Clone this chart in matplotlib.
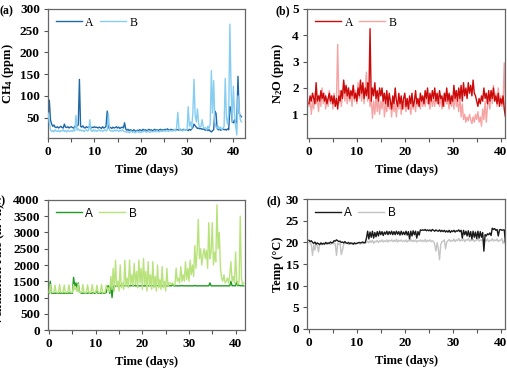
import matplotlib
matplotlib.use('Agg')
import matplotlib.pyplot as plt
from matplotlib.ticker import MultipleLocator
import numpy as np

plt.rcParams['font.family'] = ['Liberation Serif', 'DejaVu Serif']
plt.rcParams['mathtext.fontset'] = 'custom'
plt.rcParams['mathtext.rm'] = 'Liberation Serif:bold'
plt.rcParams['mathtext.default'] = 'rm'

# values read every 0.25 day (one row = one day)
ch4_a = [
    55, 90, 45, 35,  30, 33, 28, 27,  29, 26, 28, 30,  27, 26, 35, 28,
    27, 29, 26, 28,  29, 27, 26, 30,  28, 31, 33, 138,  30, 28, 31, 27,
    26, 29, 27, 28,  30, 26, 28, 27,  29, 27, 28, 26,  28, 27, 25, 29,
    26, 27, 30, 65,  26, 28, 27, 25,  28, 26, 27, 29,  26, 28, 25, 27,
    28, 26, 38, 24,  21, 23, 20, 22,  21, 19, 22, 20,  18, 21, 20, 22,
    21, 20, 23, 21,  22, 20, 21, 23,  21, 22, 20, 21,  23, 21, 22, 20,
    22, 23, 21, 22,  21, 23, 22, 24,  22, 21, 23, 22,  21, 22, 20, 23,
    22, 21, 23, 22,  21, 23, 22, 21,  22, 20, 23, 21,  24, 27, 35, 31,
    28, 25, 26, 24,  25, 23, 24, 22,  21, 23, 20, 22,  19, 17, 20, 22,
    65, 60, 25, 22,  23, 21, 22, 24,  22, 23, 21, 24,  22, 75, 70, 40,
    38, 45, 35, 42,  145, 60, 55, 52,
]
ch4_b = [
    60, 40, 22, 18,  20, 17, 22, 19,  18, 21, 17, 20,  19, 22, 18, 20,
    17, 21, 19, 18,  20, 18, 22, 19,  55, 21, 24, 20,  22, 19, 21, 18,
    20, 22, 19, 21,  45, 20, 18, 22,  19, 21, 18, 20,  22, 19, 21, 18,
    20, 22, 19, 21,  60, 22, 19, 20,  18, 21, 19, 22,  20, 18, 21, 19,
    22, 19, 18, 17,  16, 18, 15, 17,  19, 16, 18, 15,  17, 19, 16, 18,
    15, 18, 17, 19,  18, 16, 19, 17,  16, 19, 17, 18,  19, 17, 20, 18,
    17, 20, 18, 19,  20, 18, 21, 19,  18, 21, 19, 20,  19, 22, 20, 28,
    62, 25, 20, 22,  19, 21, 23, 20,  22, 75, 30, 40,  25, 60, 138, 55,
    40, 70, 35, 28,  30, 45, 28, 25,  27, 22, 30, 25,  35, 158, 60, 135,
    40, 28, 25, 30,  24, 28, 22, 25,  30, 140, 50, 35,  60, 265, 120, 40,
    122, 60, 30, 10,  100, 70, 45, 40,
]
n2o_a = [
    1.4, 1.7, 1.5, 1.8,  1.6, 1.4, 2.2, 1.5,  1.7, 1.5, 1.9, 1.6,  1.8, 1.5, 1.7, 1.4,
    1.6, 1.8, 1.5, 1.7,  1.4, 1.7, 1.3, 1.6,  1.2, 1.7, 1.5, 1.9,  1.6, 2.3, 1.8, 2.1,
    1.7, 2.0, 1.6, 1.9,  1.7, 2.1, 1.6, 1.8,  1.5, 2.0, 1.7, 2.3,  1.8, 2.2, 1.6, 2.0,
    1.7, 2.2, 1.6, 4.25,  1.5, 2.0, 1.7, 2.2,  1.6, 1.9, 1.5, 2.0,  1.7, 2.0, 1.5, 1.8,
    1.4, 1.9, 1.3, 1.8,  1.5, 1.2, 1.7, 1.4,  2.0, 1.5, 1.3, 1.8,  1.4, 1.7, 1.2, 1.6,
    1.8, 1.3, 1.6, 1.2,  1.7, 1.4, 1.8, 1.3,  1.5, 1.9, 1.4, 1.6,  1.3, 1.8, 1.5, 1.7,
    1.4, 1.9, 1.6, 2.0,  1.4, 1.8, 1.5, 1.9,  1.6, 2.0, 1.5, 1.8,  1.4, 1.9, 1.6, 1.7,
    1.3, 1.8, 1.5, 2.0,  1.5, 1.8, 1.4, 1.7,  1.5, 2.1, 1.6, 1.9,  1.5, 2.0, 1.6, 2.1,
    1.5, 2.2, 1.7, 2.0,  1.6, 2.2, 1.8, 2.1,  1.7, 2.3, 1.8, 1.7,  1.5, 1.3, 1.6, 1.4,
    1.7, 1.5, 2.0, 1.6,  1.8, 1.4, 1.9, 1.5,  1.9, 1.6, 2.0, 1.5,  1.7, 1.4, 1.8, 1.3,
    1.6, 1.4, 1.7, 1.2,  0.9, 1.3, 1.1, 1.25,
]
n2o_b = [
    1.3, 1.6, 1.0, 1.5,  1.2, 1.8, 1.4, 1.6,  1.1, 1.7, 1.3, 2.0,  1.4, 1.8, 1.2, 1.6,
    1.3, 1.9, 1.4, 1.7,  1.2, 1.8, 1.3, 1.6,  3.65, 1.4, 1.9, 1.3,  1.7, 2.2, 1.5, 1.9,
    1.4, 2.0, 1.5, 1.8,  1.3, 2.1, 1.5, 1.9,  1.4, 2.2, 1.6, 2.0,  1.5, 2.1, 1.4, 2.0,
    2.6, 1.5, 1.9, 1.3,  1.6, 0.85, 1.5, 1.0,  1.7, 1.1, 1.6, 1.0,  1.5, 1.2, 1.8, 0.9,
    1.4, 1.1, 1.7, 1.2,  1.5, 0.9, 1.6, 1.1,  1.4, 0.9, 1.5, 1.2,  1.6, 1.0, 1.4, 1.2,
    1.5, 1.1, 1.6, 1.2,  1.4, 1.0, 1.5, 1.2,  1.5, 1.1, 1.6, 1.3,  1.4, 1.2, 1.7, 1.3,
    1.6, 1.3, 1.8, 1.4,  1.5, 1.2, 1.7, 1.3,  1.6, 1.3, 1.8, 1.4,  1.5, 1.3, 1.7, 1.2,
    1.6, 1.3, 1.8, 1.4,  1.5, 1.2, 1.7, 1.3,  1.6, 1.2, 1.9, 1.3,  1.5, 1.1, 1.7, 0.9,
    1.4, 0.8, 1.0, 0.7,  0.9, 0.75, 1.0, 0.8,  0.65, 0.9, 0.7, 1.0,  0.8, 1.1, 0.7, 0.9,
    0.55, 1.2, 0.8, 1.5,  0.7, 1.3, 1.6, 1.2,  1.9, 1.4, 2.1, 1.5,  1.8, 1.3, 2.0, 1.4,
    1.7, 1.3, 1.5, 2.95,  1.2, 1.0, 1.1, 1.0,
]
vent_a = [
    1130, 1500, 1140, 1130,  1130, 1140, 1130, 1150,  1130, 1140, 1130, 1130,  1140, 1130, 1140, 1130,
    1130, 1150, 1130, 1140,  1130, 1620, 1350, 1450,  1300, 1450, 1180, 1150,  1130, 1140, 1130, 1150,
    1140, 1130, 1150, 1140,  1130, 1150, 1140, 1130,  1140, 1200, 1130, 1150,  1130, 1140, 1150, 1130,
    1140, 1150, 1350, 1360,  1130, 1360, 1000, 1350,  1360, 1350, 1360, 1350,  1360, 1370, 1360, 1360,
    1360, 1360, 1370, 1360,  1360, 1360, 1360, 1370,  1360, 1370, 1360, 1360,  1360, 1360, 1360, 1360,
    1370, 1360, 1360, 1360,  1360, 1360, 1370, 1360,  1360, 1360, 1360, 1360,  1360, 1370, 1360, 1360,
    1360, 1360, 1360, 1360,  1360, 1360, 1360, 1370,  1360, 1360, 1400, 1360,  1360, 1360, 1360, 1360,
    1360, 1360, 1370, 1360,  1360, 1360, 1360, 1360,  1360, 1360, 1360, 1360,  1360, 1370, 1360, 1360,
    1360, 1360, 1360, 1360,  1360, 1360, 1360, 1360,  1360, 1360, 1450, 1360,  1360, 1360, 1360, 1360,
    1360, 1360, 1360, 1360,  1360, 1360, 1360, 1360,  1360, 1360, 1360, 1360,  1500, 1360, 1370, 1360,
    1360, 1500, 1360, 1380,  1360, 1370, 1360, 1360,
]
vent_b = [
    1150, 1400, 1180, 1150,  1160, 1380, 1170, 1150,  1150, 1400, 1160, 1150,  1170, 1380, 1150, 1160,
    1150, 1390, 1170, 1150,  1160, 1400, 1250, 1300,  1180, 1420, 1160, 1150,  1170, 1400, 1150, 1160,
    1150, 1390, 1170, 1150,  1160, 1400, 1150, 1170,  1150, 1380, 1160, 1150,  1170, 1400, 1150, 1160,
    1150, 1380, 1250, 1300,  1180, 1650, 1250, 1900,  1200, 2150, 1350, 1500,  1200, 2000, 1300, 1450,
    1250, 2150, 1350, 1600,  1300, 2150, 1400, 1700,  1350, 2050, 1400, 1800,  1300, 2150, 1450, 1900,
    1250, 2200, 1400, 1800,  1200, 2100, 1350, 1700,  1250, 2100, 1300, 1650,  1200, 2000, 1300, 1550,
    1250, 1950, 1300, 1500,  1200, 1900, 1350, 1450,  1450, 1400, 1450, 1380,  1400, 1900, 1500, 1600,
    1450, 1950, 1500, 1700,  1500, 2100, 1550, 1900,  1500, 2150, 1700, 2000,  1650, 2600, 1900, 2400,
    3400, 2200, 2500, 2000,  2300, 2500, 2200, 2450,  1900, 3300, 2200, 2400,  3300, 2000, 2400, 2100,
    3850, 2500, 3000, 1900,  1600, 1500, 1700, 1450,  1500, 1600, 1450, 1700,  2100, 1500, 1650, 1450,
    2400, 1500, 1400, 1500,  3500, 1600, 1400, 1450,
]
temp_a = [
    20.5, 20.2, 20.4, 20.0,  19.8, 20.1, 19.6, 19.9,  19.7, 19.5, 19.9, 19.6,  19.8, 19.6, 20.0, 19.7,
    19.9, 19.8, 20.1, 19.9,  20.0, 20.4, 20.3, 20.6,  20.4, 20.2, 20.3, 20.0,  20.1, 19.9, 20.2, 19.9,
    19.8, 20.0, 19.7, 19.9,  19.8, 19.6, 19.9, 19.7,  19.8, 19.9, 20.0, 19.9,  20.0, 20.1, 19.9, 20.0,
    21.0, 22.6, 20.8, 22.4,  21.2, 22.6, 21.0, 22.3,  21.3, 22.5, 21.5, 22.6,  21.8, 22.5, 21.6, 22.4,
    21.9, 22.6, 21.8, 22.5,  21.9, 22.6, 21.8, 22.5,  21.8, 22.6, 21.9, 22.5,  21.7, 22.6, 21.8, 22.4,
    21.8, 22.6, 21.7, 22.5,  20.8, 22.6, 21.5, 22.7,  21.8, 22.6, 21.0, 22.5,  21.7, 22.9, 22.8, 22.9,
    22.8, 23.0, 22.7, 22.9,  22.7, 22.9, 22.6, 23.0,  22.8, 22.6, 22.9, 22.7,  22.6, 22.9, 22.5, 22.8,
    22.5, 22.8, 22.4, 22.7,  22.4, 22.8, 22.3, 22.7,  22.5, 22.8, 22.4, 22.7,  22.6, 22.9, 22.5, 22.8,
    21.0, 22.8, 21.8, 22.6,  21.5, 22.7, 21.3, 22.5,  20.8, 22.6, 21.2, 22.4,  20.9, 22.6, 21.0, 22.5,
    21.2, 22.3, 18.0, 21.8,  21.5, 22.0, 21.8, 22.2,  21.6, 23.3, 23.0, 23.2,  22.8, 23.0, 21.5, 22.9,
    23.0, 22.8, 22.9, 22.9,  20.0, 20.1, 20.0, 20.0,
]
temp_b = [
    20.0, 19.8, 19.5, 17.0,  19.5, 18.2, 19.8, 19.3,  17.8, 19.6, 19.8, 19.5,  19.8, 19.6, 20.0, 19.7,
    19.6, 19.9, 19.5, 19.8,  19.7, 19.9, 19.6, 17.0,  19.8, 19.6, 19.8, 17.2,  18.2, 19.6, 19.9, 19.7,
    19.8, 19.5, 19.9, 19.6,  19.7, 19.9, 19.6, 19.8,  19.7, 19.9, 19.8, 19.6,  19.9, 19.7, 20.0, 19.8,
    20.0, 20.3, 19.9, 20.4,  20.0, 20.5, 19.8, 20.3,  20.1, 20.5, 20.0, 20.4,  20.2, 20.6, 20.1, 20.4,
    20.2, 20.6, 20.1, 20.5,  20.3, 20.6, 20.2, 20.5,  20.2, 20.7, 20.1, 20.5,  20.3, 20.6, 20.2, 20.4,
    20.2, 20.6, 20.1, 20.5,  20.3, 20.7, 20.2, 20.5,  20.2, 20.6, 20.1, 20.4,  20.3, 20.6, 20.2, 20.5,
    20.2, 20.7, 20.1, 20.5,  20.3, 20.6, 20.2, 20.4,  20.2, 19.5, 18.0, 20.0,  18.5, 16.0, 19.5, 20.2,
    20.3, 20.6, 18.5, 20.1,  20.4, 20.7, 20.2, 20.5,  20.3, 20.8, 20.2, 20.6,  20.4, 20.9, 20.3, 20.6,
    20.4, 20.8, 20.2, 20.6,  20.5, 20.9, 20.3, 20.6,  20.4, 20.8, 20.2, 20.5,  20.5, 20.9, 20.3, 20.6,
    20.4, 20.8, 20.1, 20.6,  20.3, 20.8, 20.2, 20.5,  20.4, 20.9, 20.3, 20.6,  20.4, 20.8, 20.2, 20.5,
    20.5, 20.9, 19.8, 20.4,  19.5, 20.0, 19.8, 20.0,
]
days = np.arange(len(ch4_a)) * 0.25

fig = plt.figure(figsize=(5.07, 3.73), dpi=100)

panels = [
    # rect, tag, ylabel, A, B, colours, ylim, ystep, xlim, tag pos, ylabel x, legend font, A on top
    ([0.095, 0.630, 0.389, 0.346], '(a)', r'CH$_4$ (ppm)', ch4_a, ch4_b,
     ('#1f68a6', '#86cdf2'), (3, 300), 50, (0, 42.6), (0.0, 0.970), -0.165, 'Liberation Serif', False),
    ([0.606, 0.630, 0.390, 0.346], '(b)', r'N$_2$O (ppm)', n2o_a, n2o_b,
     ('#cc0a0a', '#f5a3a3'), (0.1, 5), 1, (-0.35, 40.9), (0.543, 0.970), -0.105, 'Liberation Serif', True),
    ([0.095, 0.115, 0.389, 0.349], '(c)', r'Ventilation rate (m$^3$/h)', vent_a, vent_b,
     ('#1e9a1e', '#b8e37c'), (0, 4000), 500, (-0.2, 42.1), (-0.015, 0.459), -0.205, 'Liberation Sans', False),
    ([0.606, 0.118, 0.390, 0.348], '(d)', 'Temp (°C)', temp_a, temp_b,
     ('#1a1a1a', '#c4c4c4'), (0, 30), 5, (-0.35, 40.9), (0.526, 0.461), -0.12, 'Liberation Sans', True),
]

for rect, tag, ylab, ya, yb, cols, ylim, ystep, xlim, tagpos, ylx, lfont, a_top in panels:
    ax = fig.add_axes(rect)
    za, zb = (3, 2) if a_top else (2, 3)
    ax.plot(days, ya, color=cols[0], lw=1.0, label='A', zorder=za)
    ax.plot(days, yb, color=cols[1], lw=1.0, label='B', zorder=zb)
    ax.set_xlim(*xlim)
    ax.set_ylim(*ylim)
    ax.xaxis.set_major_locator(MultipleLocator(10))
    ax.xaxis.set_minor_locator(MultipleLocator(5))
    ax.yaxis.set_major_locator(MultipleLocator(ystep))
    ax.tick_params(which='both', direction='out', length=3, width=0.8, color='#555555',
                   labelsize=9.5, pad=3)
    for lbl in ax.get_xticklabels() + ax.get_yticklabels():
        lbl.set_fontweight('bold')
    for sp in ax.spines.values():
        sp.set_color('#666666')
        sp.set_linewidth(0.9)
    ax.set_xlabel('Time (days)', fontsize=9, fontweight='bold', labelpad=4)
    ax.set_ylabel(ylab, fontsize=9, fontweight='bold')
    ax.yaxis.set_label_coords(ylx, 0.5)
    ax.legend(loc='upper left', ncol=2, frameon=False, handlelength=2.2, columnspacing=0.5,
              handletextpad=0.3, borderaxespad=0.25, prop={'family': lfont, 'size': 8.5})
    fig.text(tagpos[0], tagpos[1], tag, fontsize=8.5, fontweight='bold', va='center', ha='left')

fig.savefig('out.png', dpi=100)
